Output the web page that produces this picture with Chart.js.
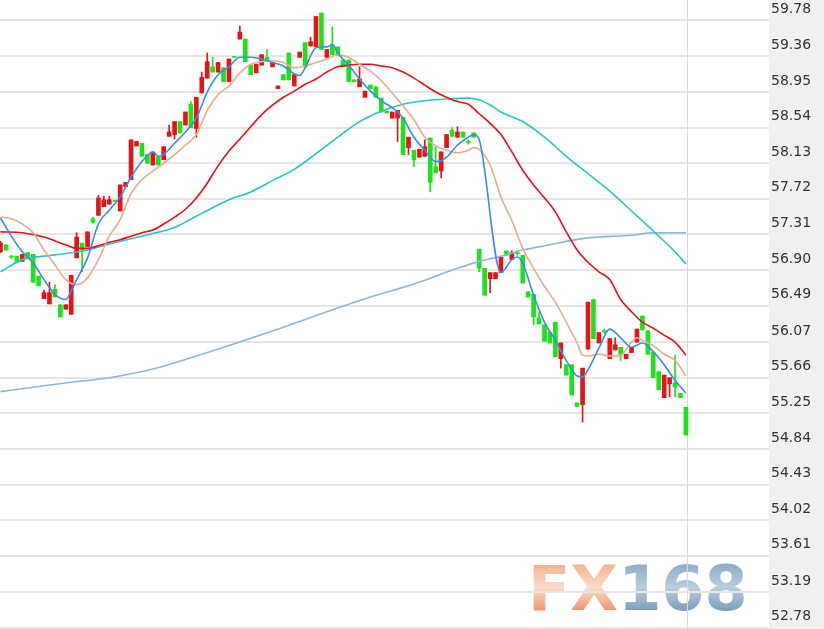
<!DOCTYPE html>
<html>
<head>
<meta charset="utf-8">
<title>K线图</title>
<script src="https://cdn.jsdelivr.net/npm/chart.js@4.4.1/dist/chart.umd.min.js"></script>
<style>
  html, body { margin: 0; padding: 0; background: #fff; }
  #wrap { width: 824px; height: 629px; }
</style>
</head>
<body>
<div id="wrap"><canvas id="grafico" width="824" height="629"></canvas></div>
<script>
// --- dados das velas (índice 0 = primeira vela visível) ---
const candleOpen = [
  57.11,57.19,57.06,57.06,57.00,57.10,57.08,56.83,56.57,56.51,
  56.68,56.50,56.45,56.39,57.04,57.21,57.17,57.49,57.53,57.63,
  57.66,57.70,57.58,57.86,57.94,58.33,58.36,58.23,58.11,58.20,
  58.17,58.44,58.46,58.61,58.57,58.81,58.53,58.94,59.11,59.24,
  59.18,59.23,59.07,59.36,59.56,59.56,59.26,59.17,59.26,59.35,
  59.24,58.99,59.15,59.40,59.02,59.35,59.52,59.48,59.47,59.86,
  59.35,59.49,59.47,59.32,59.32,59.09,59.01,58.89,59.03,59.01,
  58.88,58.73,58.65,58.65,58.66,58.31,58.28,58.20,58.21,58.42,
  58.09,58.04,58.31,58.51,58.43,58.49,58.38,58.48,57.14,56.92,
  56.80,56.80,56.87,57.12,57.02,57.10,57.07,56.65,56.62,56.35,
  56.27,56.18,56.30,55.88,55.81,55.81,55.37,55.35,55.99,56.56,
  56.06,56.20,55.88,55.98,56.01,55.88,55.95,56.07,56.37,56.20,
  55.95,55.73,55.43,55.59,55.60,55.48,55.32
];
const candleHigh = [
  57.23,57.19,57.07,57.06,57.08,57.10,57.08,56.83,56.67,56.76,
  56.73,56.50,56.50,56.84,57.33,57.21,57.34,57.51,57.76,57.75,
  57.75,57.70,57.88,57.91,58.40,58.38,58.36,58.23,58.26,58.20,
  58.32,58.57,58.61,58.61,58.72,58.84,58.89,59.18,59.40,59.35,
  59.29,59.23,59.33,59.36,59.71,59.56,59.26,59.27,59.38,59.44,
  59.29,59.02,59.15,59.40,59.15,59.41,59.52,59.58,59.82,59.86,
  59.44,59.70,59.47,59.32,59.32,59.09,59.24,58.96,59.03,59.01,
  58.88,58.73,58.72,58.74,58.66,58.43,58.28,58.29,58.40,58.42,
  58.32,58.26,58.46,58.54,58.55,58.49,58.40,58.48,57.14,56.92,
  56.87,56.87,57.05,57.12,57.12,57.12,57.07,56.65,56.62,56.42,
  56.27,56.18,56.30,56.06,55.81,55.81,55.37,55.77,56.53,56.56,
  56.18,56.22,56.11,56.12,56.01,55.93,56.01,56.22,56.37,56.20,
  55.95,55.73,55.69,55.66,55.92,55.48,55.32
];
const candleLow = [
  57.10,57.13,57.03,56.99,57.00,57.04,56.76,56.72,56.57,56.51,
  56.59,56.36,56.45,56.39,57.04,56.88,57.17,57.44,57.53,57.63,
  57.66,57.69,57.58,57.86,57.94,58.33,58.21,58.13,58.11,58.11,
  58.17,58.44,58.41,58.48,58.57,58.54,58.43,58.94,59.11,59.18,
  59.18,59.07,59.07,59.35,59.56,59.30,59.15,59.17,59.26,59.32,
  59.24,58.99,59.09,59.09,59.02,59.35,59.24,59.48,59.47,59.44,
  59.35,59.38,59.37,59.24,59.07,59.07,59.01,58.89,58.99,58.89,
  58.72,58.71,58.65,58.38,58.23,58.23,58.09,58.20,58.21,57.80,
  58.02,57.96,58.31,58.44,58.43,58.43,58.35,58.43,56.88,56.61,
  56.64,56.80,56.87,57.07,57.02,57.07,56.75,56.59,56.27,56.28,
  56.08,56.06,55.90,55.77,55.69,55.46,55.33,55.15,55.99,56.11,
  56.06,56.17,55.88,55.98,55.86,55.88,55.95,56.07,56.21,55.93,
  55.66,55.52,55.43,55.44,55.44,55.43,55.00
];
const candleClose = [
  57.21,57.13,57.05,56.99,57.08,57.04,56.76,56.72,56.64,56.64,
  56.59,56.36,56.50,56.84,57.28,57.13,57.34,57.45,57.73,57.71,
  57.71,57.69,57.88,57.91,58.40,58.38,58.21,58.13,58.26,58.11,
  58.32,58.49,58.61,58.48,58.72,58.54,58.89,59.12,59.30,59.18,
  59.29,59.07,59.33,59.35,59.64,59.30,59.15,59.27,59.38,59.32,
  59.29,59.02,59.09,59.09,59.15,59.41,59.24,59.53,59.82,59.44,
  59.44,59.38,59.37,59.24,59.07,59.07,59.10,58.96,58.99,58.89,
  58.72,58.71,58.72,58.74,58.23,58.43,58.17,58.29,58.32,57.91,
  58.02,58.26,58.46,58.44,58.49,58.43,58.37,58.43,56.92,56.61,
  56.87,56.87,57.05,57.07,57.10,57.09,56.75,56.59,56.36,56.28,
  56.08,56.06,55.90,56.06,55.69,55.46,55.33,55.77,56.53,56.11,
  56.18,56.19,56.11,56.04,55.93,55.93,56.01,56.22,56.21,55.93,
  55.66,55.52,55.69,55.66,55.55,55.43,55.00
];

// médias móveis: [índice da vela, valor]
const ma5 = [
  [0,57.50],[2,57.29],[4,57.11],[6,56.98],[8,56.79],[10,56.62],[12,56.56],[13,56.66],[14,56.79],
  [16,57.04],[18,57.43],[20,57.59],[22,57.74],[24,57.97],[26,58.15],[28,58.26],[29,58.21],[30,58.23],
  [32,58.36],[34,58.49],[36,58.65],[38,58.95],[40,59.15],[42,59.24],[44,59.35],[46,59.35],[48,59.33],
  [50,59.29],[52,59.25],[54,59.16],[55,59.14],[56,59.23],[58,59.46],[60,59.47],[61,59.50],[62,59.40],
  [64,59.26],[66,59.10],[68,58.96],[70,58.85],[72,58.77],[73,58.72],[74,58.65],[76,58.43],[78,58.28],
  [80,58.15],[81,58.16],[82,58.20],[84,58.34],[86,58.43],[87,58.46],[88,58.40],[92,56.87],[94,57.02],
  [95,57.05],[96,56.98],[98,56.61],[100,56.30],[102,56.09],[104,55.86],[106,55.68],[107,55.67],
  [108,55.75],[110,56.00],[112,56.22],[114,56.12],[116,56.01],[118,56.06],[120,55.96],[122,55.81],
  [124,55.63],[126,55.48]
];
const ma10 = [
  [0,57.51],[2,57.49],[4,57.43],[6,57.33],[8,57.13],[10,56.96],[12,56.79],[14,56.73],[16,56.81],
  [18,57.02],[20,57.29],[22,57.48],[24,57.78],[26,57.94],[28,58.04],[30,58.13],[32,58.23],[34,58.34],
  [36,58.46],[38,58.74],[40,58.92],[42,59.02],[44,59.17],[46,59.27],[48,59.30],[50,59.31],[52,59.29],
  [54,59.23],[56,59.25],[58,59.29],[60,59.33],[62,59.38],[64,59.35],[66,59.27],[68,59.19],[70,59.08],
  [72,58.94],[74,58.79],[76,58.63],[78,58.43],[80,58.33],[82,58.28],[84,58.25],[86,58.28],[87,58.31],
  [88,58.29],[90,58.11],[92,57.74],[94,57.47],[96,57.15],[98,56.92],[100,56.71],[102,56.53],
  [104,56.30],[106,56.06],[107,55.92],[108,55.91],[110,55.93],[112,55.91],[114,55.92],[116,56.07],
  [117,56.12],[118,56.09],[120,56.03],[122,55.93],[124,55.86],[126,55.68]
];
const ma20 = [
  [0,57.34],[4,57.33],[8,57.28],[12,57.19],[14,57.15],[16,57.15],[18,57.18],[20,57.22],[22,57.25],
  [24,57.29],[26,57.33],[28,57.36],[30,57.43],[32,57.51],[34,57.60],[36,57.73],[38,57.90],[40,58.10],
  [42,58.27],[44,58.41],[46,58.55],[48,58.69],[50,58.80],[52,58.89],[54,58.96],[56,59.04],[58,59.10],
  [60,59.18],[62,59.24],[64,59.26],[66,59.27],[68,59.27],[70,59.25],[72,59.23],[74,59.18],[76,59.11],
  [78,59.03],[80,58.95],[82,58.89],[84,58.84],[86,58.81],[88,58.70],[90,58.59],[92,58.46],[94,58.26],
  [96,58.05],[98,57.88],[100,57.73],[102,57.57],[104,57.34],[106,57.13],[108,56.99],[110,56.88],
  [112,56.79],[114,56.56],[116,56.42],[118,56.30],[120,56.23],[122,56.15],[124,56.07],[126,55.92]
];
const ma60 = [
  [0,56.88],[4,57.02],[8,57.06],[12,57.09],[16,57.13],[20,57.20],[24,57.26],[28,57.32],[32,57.39],
  [36,57.52],[40,57.65],[42,57.71],[46,57.80],[50,57.93],[54,58.06],[58,58.24],[62,58.43],[66,58.61],
  [70,58.73],[74,58.81],[78,58.85],[82,58.87],[86,58.88],[88,58.86],[90,58.80],[92,58.72],[96,58.61],
  [100,58.43],[104,58.21],[108,58.01],[112,57.81],[116,57.58],[120,57.35],[124,57.11],[126,56.97]
];
const ma120 = [
  [0,55.50],[6,55.55],[12,55.60],[20,55.66],[28,55.76],[36,55.91],[44,56.07],[52,56.24],[60,56.42],
  [68,56.59],[76,56.74],[84,56.92],[88,57.00],[92,57.06],[96,57.13],[100,57.18],[108,57.27],
  [116,57.30],[120,57.33],[126,57.33]
];

// eixo de preços (lado direito)
const yTickLabels = ['59.78','59.36','58.95','58.54','58.13','57.72','57.31','56.90','56.49',
  '56.07','55.66','55.25','54.84','54.43','54.02','53.61','53.19','52.78'];

const COR_ALTA = '#e8131a';
const COR_BAIXA = '#1ee21e';
const coresVela = candleOpen.map((o, i) => candleClose[i] > o ? COR_ALTA : COR_BAIXA);

function linhaMedia(pontos, cor) {
  return {
    type: 'line',
    data: pontos.map(p => ({ x: p[0], y: p[1] })),
    borderColor: cor,
    borderWidth: 1.6,
    pointRadius: 0,
    fill: false,
    spanGaps: true,
    tension: 0.4,
    cubicInterpolationMode: 'monotone',
    order: 0
  };
}

// fundo branco, faixa cinza do eixo e marca d'água
const fundo = {
  id: 'fundo',
  beforeDraw(chart) {
    const { ctx, chartArea, width, height } = chart;
    ctx.save();
    ctx.fillStyle = '#ffffff';
    ctx.fillRect(0, 0, width, height);
    ctx.fillStyle = '#f0f0f0';
    ctx.fillRect(chartArea.right, 0, width - chartArea.right, height);

    ctx.font = 'bold 62px "DejaVu Sans"';
    ctx.textBaseline = 'alphabetic';
    let g = ctx.createLinearGradient(0, 565, 0, 610);
    g.addColorStop(0, '#f4b495');
    g.addColorStop(0.5, '#fbdccb');
    g.addColorStop(1, '#ee9874');
    ctx.fillStyle = g;
    ctx.fillText('FX', 528, 610);
    const w = ctx.measureText('FX').width;
    g = ctx.createLinearGradient(0, 565, 0, 610);
    g.addColorStop(0, '#90aec8');
    g.addColorStop(0.5, '#b9cddd');
    g.addColorStop(1, '#7f9fbb');
    ctx.fillStyle = g;
    ctx.fillText('168', 528 + w, 610);
    ctx.restore();
  }
};

// linha vertical na última vela
const linhaAtual = {
  id: 'linhaAtual',
  beforeDatasetsDraw(chart) {
    const { ctx, chartArea } = chart;
    const x = Math.round(chart.scales.x.getPixelForValue(candleOpen.length - 1)) + 1.5;
    ctx.save();
    ctx.strokeStyle = '#dadada';
    ctx.lineWidth = 1;
    ctx.beginPath();
    ctx.moveTo(x, chartArea.top);
    ctx.lineTo(x, chartArea.bottom);
    ctx.stroke();
    ctx.restore();
  }
};

const ctx = document.getElementById('grafico').getContext('2d');

new Chart(ctx, {
  type: 'bar',
  data: {
    datasets: [
      linhaMedia(ma5, '#3b8de0'),
      linhaMedia(ma10, '#e2b08b'),
      linhaMedia(ma20, '#e3131b'),
      linhaMedia(ma60, '#2cc4c4'),
      linhaMedia(ma120, '#8fb6d6'),
      {
        // corpo das velas
        data: candleOpen.map((o, i) => ({ x: i, y: [o, candleClose[i]] })),
        backgroundColor: coresVela,
        barThickness: 4,
        minBarLength: 1,
        grouped: false,
        order: 1
      },
      {
        // sombras (máxima / mínima)
        data: candleLow.map((l, i) => ({ x: i, y: [l, candleHigh[i]] })),
        backgroundColor: coresVela,
        barThickness: 1,
        minBarLength: 1,
        grouped: false,
        order: 2
      }
    ]
  },
  options: {
    responsive: false,
    animation: false,
    layout: { padding: 0 },
    plugins: {
      legend: { display: false },
      tooltip: { enabled: false }
    },
    scales: {
      x: {
        type: 'linear',
        display: false,
        offset: false,
        min: -0.092,
        max: 141.27
      },
      y: {
        position: 'right',
        min: 52.766,
        max: 60.010,
        afterBuildTicks: (scale) => {
          scale.ticks = yTickLabels.map(t => ({ value: parseFloat(t) }));
        },
        afterFit: (scale) => {
          scale.width = 55;
          scale.paddingTop = 0;
          scale.paddingBottom = 0;
        },
        border: { display: false },
        grid: { color: '#e6e6e6', lineWidth: 2, drawTicks: false },
        ticks: {
          padding: 2,
          labelOffset: -11,
          autoSkip: false,
          color: '#333',
          font: { family: 'DejaVu Sans', size: 14 },
          callback: (value, index) => yTickLabels[index]
        }
      }
    }
  },
  plugins: [fundo, linhaAtual]
});
</script>
</body>
</html>
